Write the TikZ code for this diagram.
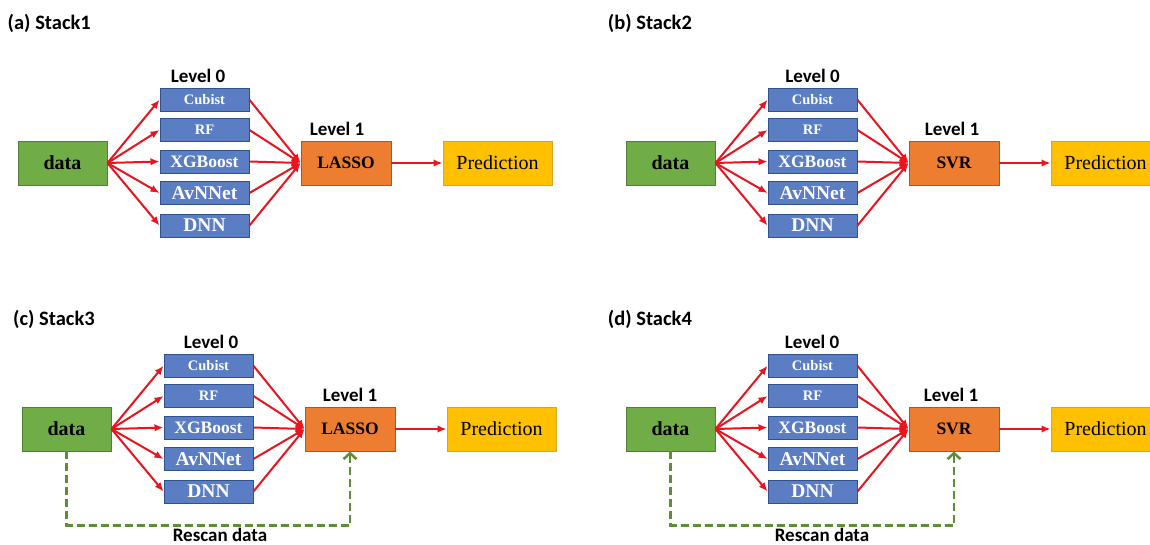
\documentclass[tikz,border=0pt]{standalone}
\usepackage{fontspec}
\setmainfont{Liberation Serif}
\newfontfamily\calibrifont{Carlito}
\usetikzlibrary{arrows.meta}
\definecolor{dgreen}{HTML}{70AD47}
\definecolor{dgreenB}{HTML}{507E32}
\definecolor{mblue}{HTML}{5A7DC4}
\definecolor{mblueB}{HTML}{2F528F}
\definecolor{orng}{HTML}{ED7D31}
\definecolor{orngB}{HTML}{4A6FA5}
\definecolor{yel}{HTML}{FFC000}
\definecolor{yelB}{HTML}{D4A72C}
\definecolor{arr}{HTML}{E8141E}
\definecolor{dashgreen}{HTML}{5E8F35}
\newcommand\fs[1]{\fontsize{#1}{#1}\selectfont}
\tikzset{
  box/.style={draw, line width=0.9pt, inner sep=0pt, anchor=center},
  databox/.style={box, fill=dgreen, draw=dgreenB, minimum width=89pt, minimum height=44pt, font=\bfseries\fs{20}},
  lbox/.style={box, fill=mblue, draw=mblueB, text=white, minimum width=89pt, minimum height=23pt},
  lonebox/.style={box, fill=orng, draw=orngB, minimum width=90pt, minimum height=44pt, font=\bfseries\fs{17.5}},
  predbox/.style={box, fill=yel, draw=yelB, minimum width=109pt, minimum height=44pt, font=\fs{20}},
  redarrow/.style={draw=arr, line width=2pt, -{Latex[length=9pt,width=7.5pt]}},
  rescan/.style={draw=dashgreen, line width=2.5pt, dash pattern=on 8pt off 4pt, -{Straight Barb[length=6pt,width=13pt]}},
  lbl/.style={font=\calibrifont\bfseries\fs{19}, anchor=base, inner sep=0pt},
  ttl/.style={font=\calibrifont\bfseries\fs{20.5}, anchor=base west, inner sep=0pt},
}
% #1 prefix, #2 dx, #3 dy, #4 level-1 model, #5 Level 0 label x, #6 Level 1 label x
\newcommand\stackpanel[6]{%
\begin{scope}[shift={(#2,#3)}]
  \node[databox] (#1data) at (62.5,163) {data};
  \node[lbox, font=\bfseries\fs{14.5}] (#1cub) at (204.5,99.8) {Cubist};
  \node[lbox, font=\bfseries\fs{14.5}] (#1rf) at (204.5,130) {RF};
  \node[lbox, font=\bfseries\fs{17.5}] (#1xgb) at (204.5,161.5) {XGBoost};
  \node[lbox, font=\bfseries\fs{19.5}] (#1avn) at (204.5,193) {AvNNet};
  \node[lbox, font=\bfseries\fs{19.5}] (#1dnn) at (204.5,225.5) {DNN};
  \node[lonebox] (#1lone) at (346,163) {#4};
  \node[predbox] (#1pred) at (497.5,163) {Prediction};
  \node[lbl] (#1lab0) at (#5,82.5) {Level 0};
  \node[lbl] (#1lab1) at (#6,135.5) {Level 1};
  \foreach \b in {cub,rf,xgb,avn,dnn} {
    \draw[redarrow] (#1data.east) -- (#1\b.west);
    \draw[redarrow] (#1\b.east) -- (#1lone.west);
  }
  \draw[redarrow] (#1lone) -- (#1pred);
\end{scope}}
\begin{document}
\begin{tikzpicture}[x=1pt,y=-1pt]
  \fill[white] (0,0) rectangle (1150,545);
  \useasboundingbox (0,0) rectangle (1150,545);
  \node[ttl] (ta) at (7.5,29.5) {(a) Stack1};
  \node[ttl] (tb) at (607.7,30) {(b) Stack2};
  \node[ttl] (tc) at (13,325) {(c) Stack3};
  \node[ttl] (td) at (607.7,325) {(d) Stack4};
  \stackpanel{a}{0}{0}{LASSO}{198}{337}
  \stackpanel{b}{608}{0}{SVR}{204.6}{344}
  \stackpanel{c}{4}{266}{LASSO}{207}{346}
  \stackpanel{d}{608}{266}{SVR}{204}{343}
  \draw[rescan] (cdata.south) -- ++(0,74) coordinate (cc) -| (clone.south);
  \draw[rescan] (ddata.south) -- ++(0,74) coordinate (dc) -| (dlone.south);
  \node[lbl] (rc) at (220,541) {Rescan data};
  \node[lbl] (rd) at (822,541) {Rescan data};
\end{tikzpicture}
\end{document}
